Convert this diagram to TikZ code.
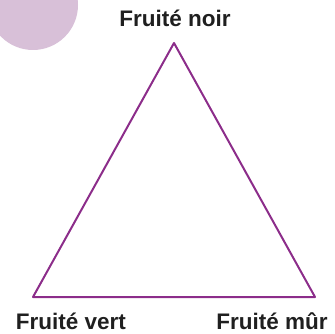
\documentclass[tikz,border=0pt]{standalone}
\usepackage{fontspec}
\setmainfont{Liberation Sans}
\definecolor{trip}{RGB}{140,45,138}
\definecolor{blob}{RGB}{216,192,216}
\begin{document}
\begin{tikzpicture}[x=1pt,y=-1pt,
  lbl/.style={font=\fontsize{22.5}{25}\selectfont\bfseries, text=black!88, inner sep=0pt, anchor=base},
  edge/.style={draw=trip, line width=2pt, line join=round}]
\useasboundingbox (0,0) rectangle (334,334);
\begin{scope}
\clip (0,0) rectangle (334,334);
\fill[blob] (33,5) circle (45);
\end{scope}
\coordinate (top) at (174,43);
\coordinate (bl) at (33,297);
\coordinate (br) at (315,297);
\draw[edge] (top) -- (bl) -- (br) -- cycle;
\node[lbl] (tn) at (175,27) {Fruité noir};
\node[lbl] (tv) at (71,329) {Fruité vert};
\node[lbl] (tm) at (272,329) {Fruité mûr};
\end{tikzpicture}
\end{document}
